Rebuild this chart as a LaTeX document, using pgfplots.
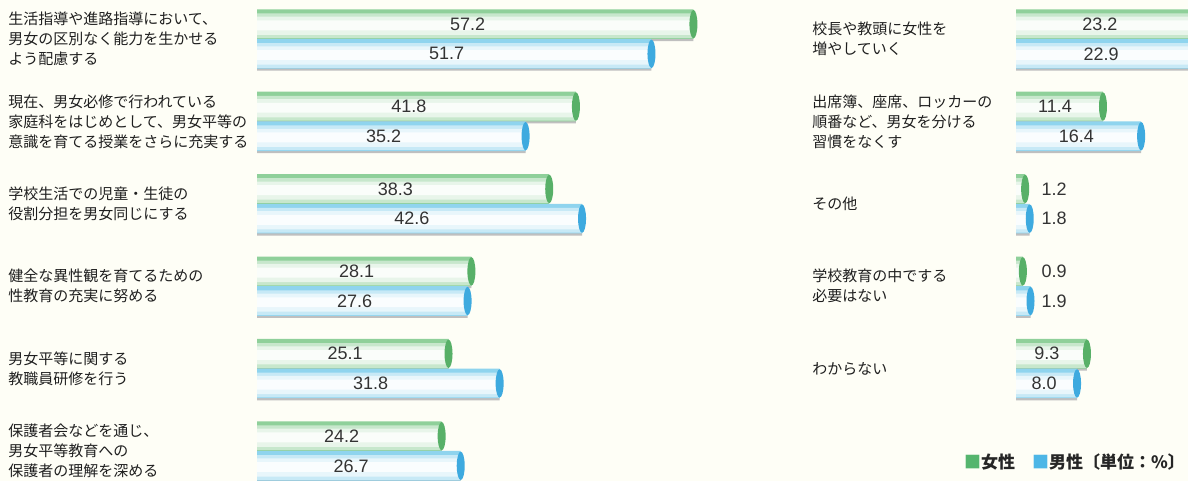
\documentclass[border=0pt]{standalone}
\usepackage{fontspec}
\setmainfont{Liberation Sans}
\newfontfamily\jp{Noto Sans CJK JP}
\usepackage{pgfplots}
\pgfplotsset{compat=1.18}
\usepackage{pgfplotstable}

\definecolor{bgc}{HTML}{FEFEF6}
\definecolor{gtop}{HTML}{8FD09A}
\definecolor{btop}{HTML}{8FD4EE}
\definecolor{gcap}{HTML}{58B068}
\definecolor{bcap}{HTML}{3EAADF}
\definecolor{lgreen}{HTML}{55B56E}
\definecolor{lblue}{HTML}{4DB6E6}

\pgfplotstableread{
k f m
0 57.2 51.7
1 41.8 35.2
2 38.3 42.6
3 28.1 27.6
4 25.1 31.8
5 24.2 26.7
}\leftdata
\pgfplotstableread{
k f m
0 23.2 22.9
1 11.4 16.4
2 1.2 1.8
3 0.9 1.9
4 9.3 8.0
}\rightdata

\pgfdeclareplotmark{capmark}{%
  \pgfpathellipse{\pgfpointorigin}{\pgfpoint{2pt}{0pt}}{\pgfpoint{0pt}{7.1pt}}%
  \pgfusepathqfill}

\pgfplotsset{
  panel/.style={
    x=3.815pt, y=41.2pt, y dir=reverse,
    ymin=-0.473, ymax=5.364,
    axis line style={draw=none}, major tick length=0pt,
    xtick=\empty,
    clip mode=individual,
    yticklabel style={anchor=west, inner sep=0pt, align=left,
      font=\fontsize{7.5}{10}\selectfont\jp, text=black!88},
  },
  onebar/.style={xbar, bar shift=0pt, draw=none, forget plot},
  vlab/.style={draw=none, mark=none, point meta=explicit, forget plot,
    nodes near coords={\pgfmathprintnumber[fixed,fixed zerofill,precision=1,assume math mode=true]{\pgfplotspointmeta}},
    every node near coord/.append style={anchor=center, font=\fontsize{9}{10}\selectfont, text=black!80}},
}

% #1 table, #2 column, #3 offset of bar centre, #4 colour, #5 cap colour
\newcommand\cylbars[5]{%
  \addplot[onebar, bar width=0.36, fill=black!25] table[x=#2, y expr=\thisrow{k}+#3+0.025]{#1};
  \addplot[onebar, bar width=0.36, fill=#4] table[x=#2, y expr=\thisrow{k}+#3]{#1};
  \addplot[onebar, bar width=0.30, fill=white, fill opacity=0.5] table[x=#2, y expr=\thisrow{k}+#3+0.02]{#1};
  \addplot[onebar, bar width=0.22, fill=white, fill opacity=0.6] table[x=#2, y expr=\thisrow{k}+#3+0.02]{#1};
  \addplot[onebar, bar width=0.12, fill=white, fill opacity=0.8] table[x=#2, y expr=\thisrow{k}+#3+0.015]{#1};
  \addplot[only marks, mark=capmark, color=#5, forget plot] table[x=#2, y expr=\thisrow{k}+#3]{#1};
}

\begin{document}
\begin{tikzpicture}
\path[use as bounding box, fill=bgc] (0,0) rectangle (594pt,240.5pt);

\begin{axis}[panel, at={(128.5pt,240.5pt)}, anchor=north west,
  xmin=0, xmax=60, ytick={0,...,5},
  yticklabel style={xshift=-124.5pt, text width=124pt},
  yticklabels={
    {生活指導や進路指導において、\\男女の区別なく能力を生かせる\\よう配慮する},
    {現在、男女必修で行われている\\家庭科をはじめとして、男女平等の\\意識を育てる授業をさらに充実する},
    {学校生活での児童・生徒の\\役割分担を男女同じにする},
    {健全な異性観を育てるための\\性教育の充実に努める},
    {男女平等に関する\\教職員研修を行う},
    {保護者会などを通じ、\\男女平等教育への\\保護者の理解を深める}}]
  \cylbars{\leftdata}{f}{-0.18}{gtop}{gcap}
  \cylbars{\leftdata}{m}{0.18}{btop}{bcap}
  \addplot[vlab] table[x expr=\thisrow{f}/2-1, y expr=\thisrow{k}-0.18, meta=f]{\leftdata};
  \addplot[vlab] table[x expr=\thisrow{m}/2-1, y expr=\thisrow{k}+0.18, meta=m]{\leftdata};
\end{axis}

\begin{axis}[panel, at={(508pt,240.5pt)}, anchor=north west,
  xmin=0, xmax=22.55, ytick={0,...,4},
  yticklabel style={xshift=-102pt, text width=100pt},
  yticklabels={
    {校長や教頭に女性を\\増やしていく},
    {出席簿、座席、ロッカーの\\順番など、男女を分ける\\習慣をなくす},
    {その他},
    {学校教育の中でする\\必要はない},
    {わからない}}]
  \cylbars{\rightdata}{f}{-0.18}{gtop}{gcap}
  \cylbars{\rightdata}{m}{0.18}{btop}{bcap}
  \addplot[vlab] table[x expr={\thisrow{f}<3 ? 5 : \thisrow{f}/2-0.6}, y expr=\thisrow{k}-0.18, meta=f]{\rightdata};
  \addplot[vlab] table[x expr={\thisrow{m}<3 ? 5 : \thisrow{m}/2-0.3}, y expr=\thisrow{k}+0.18, meta=m]{\rightdata};
  \node[anchor=east, inner sep=0pt, font=\fontsize{8.5}{10}\selectfont\jp\bfseries, text=black!85]
    at (axis cs:22.2,5.13) {\textcolor{lgreen}{■}女性\quad\textcolor{lblue}{■}男性〔単位：\%〕};
\end{axis}
\end{tikzpicture}
\end{document}
